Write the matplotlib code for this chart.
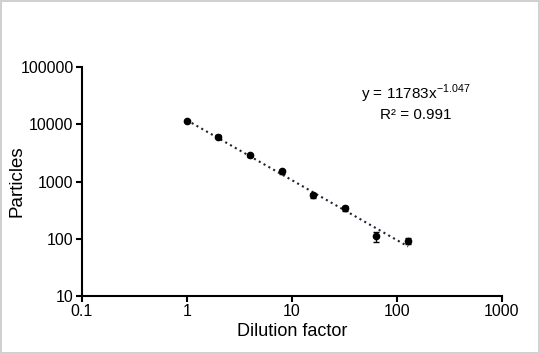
import numpy as np
import matplotlib.pyplot as plt

plt.rcParams['font.family'] = ['Liberation Sans', 'DejaVu Sans']

dilution = [1, 2, 4, 8, 16, 32, 64, 128]
particles = [11600, 6100, 2850, 1500, 580, 340, 110, 93]
errors = [500, 300, 150, 120, 60, 30, 22, 12]

coef_a = 11783
coef_b = -1.047

fig = plt.figure(figsize=(5.39, 3.53), dpi=100)
fig.patch.set_edgecolor('#d0d0d0')
fig.patch.set_linewidth(2)
ax = fig.add_axes([0.152, 0.1615, 0.779, 0.6485])

ax.errorbar(dilution, particles, yerr=errors, fmt='o', color='black',
            markersize=4.5, capsize=2.5, elinewidth=1, capthick=1)

xf = np.logspace(np.log10(dilution[0]), np.log10(dilution[-1]), 50)
ax.plot(xf, coef_a * xf ** coef_b, linestyle=':', color='#222233', linewidth=1.5)

ax.set_xscale('log')
ax.set_yscale('log')
ax.set_xlim(0.1, 1000)
ax.set_ylim(10, 100000)
ax.set_xticks([0.1, 1, 10, 100, 1000])
ax.set_xticklabels(['0.1', '1', '10', '100', '1000'])
ax.set_yticks([10, 100, 1000, 10000, 100000])
ax.set_yticklabels(['10', '100', '1000', '10000', '100000'])
ax.minorticks_off()
ax.tick_params(labelsize=11.5, width=1.5, length=4, direction='out', pad=2)
for s in ['top', 'right']:
    ax.spines[s].set_visible(False)
for s in ['left', 'bottom']:
    ax.spines[s].set_linewidth(1.5)

ax.set_xlabel('Dilution factor', fontsize=13, labelpad=3)
ax.set_ylabel('Particles', fontsize=13.5)
ax.yaxis.set_label_coords(-0.135, 0.5)

ax.text(0.795, 0.885, 'y = 11783x$^{\\mathregular{-1.047}}$', transform=ax.transAxes,
        ha='center', va='center', fontsize=11)
ax.text(0.795, 0.79, 'R² = 0.991', transform=ax.transAxes,
        ha='center', va='center', fontsize=11)

fig.savefig('out.png', dpi=100, edgecolor=fig.get_edgecolor())
